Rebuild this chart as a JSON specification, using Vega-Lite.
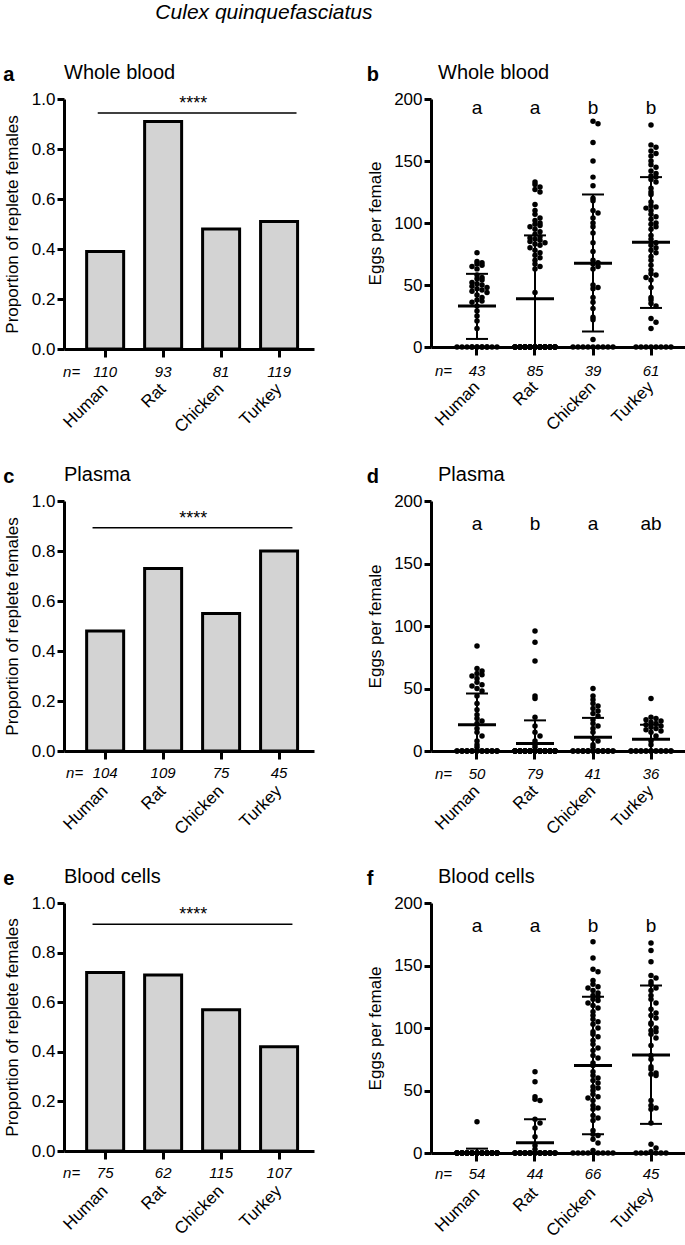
{
"$schema": "https://vega.github.io/schema/vega-lite/v6.json",
"padding": {"left": 3, "top": 2, "right": 0, "bottom": 0},
"background": "white",
"title": {"text": "Culex quinquefasciatus", "fontStyle": "italic", "fontWeight": "normal", "fontSize": 21, "anchor": "start", "frame": "bounds", "dx": 152, "offset": 40, "color": "black"},
"datasets": {
"props": [
{"p":"a","s":"Human","v":0.39,"n":110},{"p":"a","s":"Rat","v":0.91,"n":93},{"p":"a","s":"Chicken","v":0.48,"n":81},{"p":"a","s":"Turkey","v":0.51,"n":119},
{"p":"c","s":"Human","v":0.48,"n":104},{"p":"c","s":"Rat","v":0.73,"n":109},{"p":"c","s":"Chicken","v":0.55,"n":75},{"p":"c","s":"Turkey","v":0.8,"n":45},
{"p":"e","s":"Human","v":0.72,"n":75},{"p":"e","s":"Rat","v":0.71,"n":62},{"p":"e","s":"Chicken","v":0.57,"n":115},{"p":"e","s":"Turkey","v":0.42,"n":107}
],
"groups": [
{"p":"b","s":"Human","m":33,"lo":6.5,"hi":59,"n":43,"g":"a"},{"p":"b","s":"Rat","m":39,"lo":0,"hi":90,"n":85,"g":"a"},{"p":"b","s":"Chicken","m":67.5,"lo":12.5,"hi":123,"n":39,"g":"b"},{"p":"b","s":"Turkey","m":84.5,"lo":31.5,"hi":137,"n":61,"g":"b"},
{"p":"d","s":"Human","m":21,"lo":0,"hi":46,"n":50,"g":"a"},{"p":"d","s":"Rat","m":6,"lo":0,"hi":24.5,"n":79,"g":"b"},{"p":"d","s":"Chicken","m":11,"lo":0,"hi":26.5,"n":41,"g":"a"},{"p":"d","s":"Turkey","m":9.5,"lo":0,"hi":21,"n":36,"g":"ab"},
{"p":"f","s":"Human","m":0.5,"lo":0,"hi":3.5,"n":54,"g":"a"},{"p":"f","s":"Rat","m":8.3,"lo":0,"hi":27,"n":44,"g":"a"},{"p":"f","s":"Chicken","m":70,"lo":15,"hi":125,"n":66,"g":"b"},{"p":"f","s":"Turkey","m":78.5,"lo":23.3,"hi":134,"n":45,"g":"b"}
],
"eggs": [
{"p":"b","s":"Human","e":76},{"p":"b","s":"Human","e":69},{"p":"b","s":"Human","e":68},{"p":"b","s":"Human","e":67},{"p":"b","s":"Human","e":66},{"p":"b","s":"Human","e":65},{"p":"b","s":"Human","e":63},{"p":"b","s":"Human","e":58},{"p":"b","s":"Human","e":56},{"p":"b","s":"Human","e":55},
{"p":"b","s":"Human","e":54},{"p":"b","s":"Human","e":52},{"p":"b","s":"Human","e":51},{"p":"b","s":"Human","e":50},{"p":"b","s":"Human","e":49},{"p":"b","s":"Human","e":48},{"p":"b","s":"Human","e":47},{"p":"b","s":"Human","e":46},{"p":"b","s":"Human","e":45},{"p":"b","s":"Human","e":44},
{"p":"b","s":"Human","e":42},{"p":"b","s":"Human","e":40},{"p":"b","s":"Human","e":38},{"p":"b","s":"Human","e":37},{"p":"b","s":"Human","e":36},{"p":"b","s":"Human","e":33},{"p":"b","s":"Human","e":29},{"p":"b","s":"Human","e":25},{"p":"b","s":"Human","e":21},{"p":"b","s":"Human","e":15},
{"p":"b","s":"Human","e":0},{"p":"b","s":"Human","e":0},{"p":"b","s":"Human","e":0},{"p":"b","s":"Human","e":0},{"p":"b","s":"Human","e":0},{"p":"b","s":"Human","e":0},{"p":"b","s":"Human","e":0},{"p":"b","s":"Human","e":0},{"p":"b","s":"Human","e":0},{"p":"b","s":"Human","e":0},{"p":"b","s":"Human","e":0},{"p":"b","s":"Human","e":0},{"p":"b","s":"Human","e":0},
{"p":"b","s":"Rat","e":133},{"p":"b","s":"Rat","e":131},{"p":"b","s":"Rat","e":129},{"p":"b","s":"Rat","e":127},{"p":"b","s":"Rat","e":125},{"p":"b","s":"Rat","e":115},{"p":"b","s":"Rat","e":110},{"p":"b","s":"Rat","e":107},{"p":"b","s":"Rat","e":104},{"p":"b","s":"Rat","e":102},
{"p":"b","s":"Rat","e":100},{"p":"b","s":"Rat","e":99},{"p":"b","s":"Rat","e":98},{"p":"b","s":"Rat","e":97},{"p":"b","s":"Rat","e":95},{"p":"b","s":"Rat","e":93},{"p":"b","s":"Rat","e":91},{"p":"b","s":"Rat","e":89},{"p":"b","s":"Rat","e":88},{"p":"b","s":"Rat","e":87},
{"p":"b","s":"Rat","e":86},{"p":"b","s":"Rat","e":85},{"p":"b","s":"Rat","e":84},{"p":"b","s":"Rat","e":83},{"p":"b","s":"Rat","e":82},{"p":"b","s":"Rat","e":80},{"p":"b","s":"Rat","e":78},{"p":"b","s":"Rat","e":76},{"p":"b","s":"Rat","e":74},{"p":"b","s":"Rat","e":72},
{"p":"b","s":"Rat","e":70},{"p":"b","s":"Rat","e":67},{"p":"b","s":"Rat","e":65},{"p":"b","s":"Rat","e":63},{"p":"b","s":"Rat","e":44},
{"p":"b","s":"Rat","e":0},{"p":"b","s":"Rat","e":0},{"p":"b","s":"Rat","e":0},{"p":"b","s":"Rat","e":0},{"p":"b","s":"Rat","e":0},{"p":"b","s":"Rat","e":0},{"p":"b","s":"Rat","e":0},{"p":"b","s":"Rat","e":0},{"p":"b","s":"Rat","e":0},{"p":"b","s":"Rat","e":0},
{"p":"b","s":"Rat","e":0},{"p":"b","s":"Rat","e":0},{"p":"b","s":"Rat","e":0},{"p":"b","s":"Rat","e":0},{"p":"b","s":"Rat","e":0},{"p":"b","s":"Rat","e":0},{"p":"b","s":"Rat","e":0},{"p":"b","s":"Rat","e":0},{"p":"b","s":"Rat","e":0},{"p":"b","s":"Rat","e":0},
{"p":"b","s":"Rat","e":0},{"p":"b","s":"Rat","e":0},{"p":"b","s":"Rat","e":0},{"p":"b","s":"Rat","e":0},{"p":"b","s":"Rat","e":0},{"p":"b","s":"Rat","e":0},{"p":"b","s":"Rat","e":0},{"p":"b","s":"Rat","e":0},{"p":"b","s":"Rat","e":0},{"p":"b","s":"Rat","e":0},
{"p":"b","s":"Rat","e":0},{"p":"b","s":"Rat","e":0},{"p":"b","s":"Rat","e":0},{"p":"b","s":"Rat","e":0},{"p":"b","s":"Rat","e":0},{"p":"b","s":"Rat","e":0},{"p":"b","s":"Rat","e":0},{"p":"b","s":"Rat","e":0},{"p":"b","s":"Rat","e":0},{"p":"b","s":"Rat","e":0},
{"p":"b","s":"Rat","e":0},{"p":"b","s":"Rat","e":0},{"p":"b","s":"Rat","e":0},{"p":"b","s":"Rat","e":0},{"p":"b","s":"Rat","e":0},{"p":"b","s":"Rat","e":0},{"p":"b","s":"Rat","e":0},{"p":"b","s":"Rat","e":0},{"p":"b","s":"Rat","e":0},{"p":"b","s":"Rat","e":0},
{"p":"b","s":"Chicken","e":182},{"p":"b","s":"Chicken","e":180},{"p":"b","s":"Chicken","e":165},{"p":"b","s":"Chicken","e":150},{"p":"b","s":"Chicken","e":137},{"p":"b","s":"Chicken","e":130},{"p":"b","s":"Chicken","e":120},{"p":"b","s":"Chicken","e":118},{"p":"b","s":"Chicken","e":110},{"p":"b","s":"Chicken","e":108},
{"p":"b","s":"Chicken","e":104},{"p":"b","s":"Chicken","e":100},{"p":"b","s":"Chicken","e":97},{"p":"b","s":"Chicken","e":92},{"p":"b","s":"Chicken","e":84},{"p":"b","s":"Chicken","e":77},{"p":"b","s":"Chicken","e":70},{"p":"b","s":"Chicken","e":68},{"p":"b","s":"Chicken","e":67},{"p":"b","s":"Chicken","e":65},
{"p":"b","s":"Chicken","e":63},{"p":"b","s":"Chicken","e":50},{"p":"b","s":"Chicken","e":48},{"p":"b","s":"Chicken","e":47},{"p":"b","s":"Chicken","e":40},{"p":"b","s":"Chicken","e":36},{"p":"b","s":"Chicken","e":31},{"p":"b","s":"Chicken","e":24},{"p":"b","s":"Chicken","e":22},{"p":"b","s":"Chicken","e":6},
{"p":"b","s":"Chicken","e":0},{"p":"b","s":"Chicken","e":0},{"p":"b","s":"Chicken","e":0},{"p":"b","s":"Chicken","e":0},{"p":"b","s":"Chicken","e":0},{"p":"b","s":"Chicken","e":0},{"p":"b","s":"Chicken","e":0},{"p":"b","s":"Chicken","e":0},{"p":"b","s":"Chicken","e":0},
{"p":"b","s":"Turkey","e":179},{"p":"b","s":"Turkey","e":163},{"p":"b","s":"Turkey","e":161},{"p":"b","s":"Turkey","e":158},{"p":"b","s":"Turkey","e":156},{"p":"b","s":"Turkey","e":154},{"p":"b","s":"Turkey","e":150},{"p":"b","s":"Turkey","e":147},{"p":"b","s":"Turkey","e":145},{"p":"b","s":"Turkey","e":142},
{"p":"b","s":"Turkey","e":140},{"p":"b","s":"Turkey","e":138},{"p":"b","s":"Turkey","e":137},{"p":"b","s":"Turkey","e":135},{"p":"b","s":"Turkey","e":133},{"p":"b","s":"Turkey","e":128},{"p":"b","s":"Turkey","e":125},{"p":"b","s":"Turkey","e":123},{"p":"b","s":"Turkey","e":117},{"p":"b","s":"Turkey","e":114},
{"p":"b","s":"Turkey","e":113},{"p":"b","s":"Turkey","e":112},{"p":"b","s":"Turkey","e":110},{"p":"b","s":"Turkey","e":107},{"p":"b","s":"Turkey","e":105},{"p":"b","s":"Turkey","e":103},{"p":"b","s":"Turkey","e":100},{"p":"b","s":"Turkey","e":99},{"p":"b","s":"Turkey","e":97},{"p":"b","s":"Turkey","e":95},
{"p":"b","s":"Turkey","e":90},{"p":"b","s":"Turkey","e":87},{"p":"b","s":"Turkey","e":84},{"p":"b","s":"Turkey","e":82},{"p":"b","s":"Turkey","e":80},{"p":"b","s":"Turkey","e":78},{"p":"b","s":"Turkey","e":76},{"p":"b","s":"Turkey","e":73},{"p":"b","s":"Turkey","e":70},{"p":"b","s":"Turkey","e":66},
{"p":"b","s":"Turkey","e":62},{"p":"b","s":"Turkey","e":59},{"p":"b","s":"Turkey","e":58},{"p":"b","s":"Turkey","e":56},{"p":"b","s":"Turkey","e":54},{"p":"b","s":"Turkey","e":48},{"p":"b","s":"Turkey","e":40},{"p":"b","s":"Turkey","e":38},{"p":"b","s":"Turkey","e":35},{"p":"b","s":"Turkey","e":33},
{"p":"b","s":"Turkey","e":23},{"p":"b","s":"Turkey","e":20},{"p":"b","s":"Turkey","e":15},
{"p":"b","s":"Turkey","e":0},{"p":"b","s":"Turkey","e":0},{"p":"b","s":"Turkey","e":0},{"p":"b","s":"Turkey","e":0},{"p":"b","s":"Turkey","e":0},{"p":"b","s":"Turkey","e":0},{"p":"b","s":"Turkey","e":0},{"p":"b","s":"Turkey","e":0},
{"p":"d","s":"Human","e":84},{"p":"d","s":"Human","e":66},{"p":"d","s":"Human","e":64},{"p":"d","s":"Human","e":62},{"p":"d","s":"Human","e":61},{"p":"d","s":"Human","e":60},{"p":"d","s":"Human","e":58},{"p":"d","s":"Human","e":55},{"p":"d","s":"Human","e":53},{"p":"d","s":"Human","e":52},
{"p":"d","s":"Human","e":50},{"p":"d","s":"Human","e":48},{"p":"d","s":"Human","e":44},{"p":"d","s":"Human","e":38},{"p":"d","s":"Human","e":33},{"p":"d","s":"Human","e":29},{"p":"d","s":"Human","e":26},{"p":"d","s":"Human","e":24},{"p":"d","s":"Human","e":22},{"p":"d","s":"Human","e":18},
{"p":"d","s":"Human","e":15},{"p":"d","s":"Human","e":12},{"p":"d","s":"Human","e":8},{"p":"d","s":"Human","e":5},{"p":"d","s":"Human","e":3},
{"p":"d","s":"Human","e":0},{"p":"d","s":"Human","e":0},{"p":"d","s":"Human","e":0},{"p":"d","s":"Human","e":0},{"p":"d","s":"Human","e":0},{"p":"d","s":"Human","e":0},{"p":"d","s":"Human","e":0},{"p":"d","s":"Human","e":0},{"p":"d","s":"Human","e":0},{"p":"d","s":"Human","e":0},
{"p":"d","s":"Human","e":0},{"p":"d","s":"Human","e":0},{"p":"d","s":"Human","e":0},{"p":"d","s":"Human","e":0},{"p":"d","s":"Human","e":0},{"p":"d","s":"Human","e":0},{"p":"d","s":"Human","e":0},{"p":"d","s":"Human","e":0},{"p":"d","s":"Human","e":0},{"p":"d","s":"Human","e":0},
{"p":"d","s":"Human","e":0},{"p":"d","s":"Human","e":0},{"p":"d","s":"Human","e":0},{"p":"d","s":"Human","e":0},{"p":"d","s":"Human","e":0},
{"p":"d","s":"Rat","e":96},{"p":"d","s":"Rat","e":87},{"p":"d","s":"Rat","e":72},{"p":"d","s":"Rat","e":44},{"p":"d","s":"Rat","e":42},{"p":"d","s":"Rat","e":27},{"p":"d","s":"Rat","e":20},{"p":"d","s":"Rat","e":15},{"p":"d","s":"Rat","e":12},{"p":"d","s":"Rat","e":8},{"p":"d","s":"Rat","e":5},{"p":"d","s":"Rat","e":3},
{"p":"d","s":"Rat","e":0},{"p":"d","s":"Rat","e":0},{"p":"d","s":"Rat","e":0},{"p":"d","s":"Rat","e":0},{"p":"d","s":"Rat","e":0},{"p":"d","s":"Rat","e":0},{"p":"d","s":"Rat","e":0},{"p":"d","s":"Rat","e":0},{"p":"d","s":"Rat","e":0},{"p":"d","s":"Rat","e":0},
{"p":"d","s":"Rat","e":0},{"p":"d","s":"Rat","e":0},{"p":"d","s":"Rat","e":0},{"p":"d","s":"Rat","e":0},{"p":"d","s":"Rat","e":0},{"p":"d","s":"Rat","e":0},{"p":"d","s":"Rat","e":0},{"p":"d","s":"Rat","e":0},{"p":"d","s":"Rat","e":0},{"p":"d","s":"Rat","e":0},
{"p":"d","s":"Rat","e":0},{"p":"d","s":"Rat","e":0},{"p":"d","s":"Rat","e":0},{"p":"d","s":"Rat","e":0},{"p":"d","s":"Rat","e":0},{"p":"d","s":"Rat","e":0},{"p":"d","s":"Rat","e":0},{"p":"d","s":"Rat","e":0},{"p":"d","s":"Rat","e":0},{"p":"d","s":"Rat","e":0},
{"p":"d","s":"Rat","e":0},{"p":"d","s":"Rat","e":0},{"p":"d","s":"Rat","e":0},{"p":"d","s":"Rat","e":0},{"p":"d","s":"Rat","e":0},{"p":"d","s":"Rat","e":0},{"p":"d","s":"Rat","e":0},{"p":"d","s":"Rat","e":0},{"p":"d","s":"Rat","e":0},{"p":"d","s":"Rat","e":0},
{"p":"d","s":"Rat","e":0},{"p":"d","s":"Rat","e":0},{"p":"d","s":"Rat","e":0},{"p":"d","s":"Rat","e":0},{"p":"d","s":"Rat","e":0},{"p":"d","s":"Rat","e":0},{"p":"d","s":"Rat","e":0},{"p":"d","s":"Rat","e":0},{"p":"d","s":"Rat","e":0},{"p":"d","s":"Rat","e":0},
{"p":"d","s":"Rat","e":0},{"p":"d","s":"Rat","e":0},{"p":"d","s":"Rat","e":0},{"p":"d","s":"Rat","e":0},{"p":"d","s":"Rat","e":0},{"p":"d","s":"Rat","e":0},{"p":"d","s":"Rat","e":0},
{"p":"d","s":"Chicken","e":50},{"p":"d","s":"Chicken","e":44},{"p":"d","s":"Chicken","e":41},{"p":"d","s":"Chicken","e":38},{"p":"d","s":"Chicken","e":36},{"p":"d","s":"Chicken","e":34},{"p":"d","s":"Chicken","e":32},{"p":"d","s":"Chicken","e":30},{"p":"d","s":"Chicken","e":28},{"p":"d","s":"Chicken","e":25},
{"p":"d","s":"Chicken","e":22},{"p":"d","s":"Chicken","e":20},{"p":"d","s":"Chicken","e":18},{"p":"d","s":"Chicken","e":15},{"p":"d","s":"Chicken","e":10},{"p":"d","s":"Chicken","e":8},{"p":"d","s":"Chicken","e":5},{"p":"d","s":"Chicken","e":3},
{"p":"d","s":"Chicken","e":0},{"p":"d","s":"Chicken","e":0},{"p":"d","s":"Chicken","e":0},{"p":"d","s":"Chicken","e":0},{"p":"d","s":"Chicken","e":0},{"p":"d","s":"Chicken","e":0},{"p":"d","s":"Chicken","e":0},{"p":"d","s":"Chicken","e":0},{"p":"d","s":"Chicken","e":0},{"p":"d","s":"Chicken","e":0},
{"p":"d","s":"Chicken","e":0},{"p":"d","s":"Chicken","e":0},{"p":"d","s":"Chicken","e":0},{"p":"d","s":"Chicken","e":0},{"p":"d","s":"Chicken","e":0},{"p":"d","s":"Chicken","e":0},{"p":"d","s":"Chicken","e":0},{"p":"d","s":"Chicken","e":0},{"p":"d","s":"Chicken","e":0},{"p":"d","s":"Chicken","e":0},
{"p":"d","s":"Chicken","e":0},{"p":"d","s":"Chicken","e":0},{"p":"d","s":"Chicken","e":0},
{"p":"d","s":"Turkey","e":42},{"p":"d","s":"Turkey","e":27},{"p":"d","s":"Turkey","e":26},{"p":"d","s":"Turkey","e":25},{"p":"d","s":"Turkey","e":24},{"p":"d","s":"Turkey","e":23},{"p":"d","s":"Turkey","e":22},{"p":"d","s":"Turkey","e":21},{"p":"d","s":"Turkey","e":20},{"p":"d","s":"Turkey","e":19},
{"p":"d","s":"Turkey","e":18},{"p":"d","s":"Turkey","e":17},{"p":"d","s":"Turkey","e":16},{"p":"d","s":"Turkey","e":15},{"p":"d","s":"Turkey","e":12},{"p":"d","s":"Turkey","e":8},{"p":"d","s":"Turkey","e":5},
{"p":"d","s":"Turkey","e":0},{"p":"d","s":"Turkey","e":0},{"p":"d","s":"Turkey","e":0},{"p":"d","s":"Turkey","e":0},{"p":"d","s":"Turkey","e":0},{"p":"d","s":"Turkey","e":0},{"p":"d","s":"Turkey","e":0},{"p":"d","s":"Turkey","e":0},{"p":"d","s":"Turkey","e":0},{"p":"d","s":"Turkey","e":0},
{"p":"d","s":"Turkey","e":0},{"p":"d","s":"Turkey","e":0},{"p":"d","s":"Turkey","e":0},{"p":"d","s":"Turkey","e":0},{"p":"d","s":"Turkey","e":0},{"p":"d","s":"Turkey","e":0},{"p":"d","s":"Turkey","e":0},{"p":"d","s":"Turkey","e":0},{"p":"d","s":"Turkey","e":0},
{"p":"f","s":"Human","e":25},
{"p":"f","s":"Human","e":0},{"p":"f","s":"Human","e":0},{"p":"f","s":"Human","e":0},{"p":"f","s":"Human","e":0},{"p":"f","s":"Human","e":0},{"p":"f","s":"Human","e":0},{"p":"f","s":"Human","e":0},{"p":"f","s":"Human","e":0},{"p":"f","s":"Human","e":0},{"p":"f","s":"Human","e":0},
{"p":"f","s":"Human","e":0},{"p":"f","s":"Human","e":0},{"p":"f","s":"Human","e":0},{"p":"f","s":"Human","e":0},{"p":"f","s":"Human","e":0},{"p":"f","s":"Human","e":0},{"p":"f","s":"Human","e":0},{"p":"f","s":"Human","e":0},{"p":"f","s":"Human","e":0},{"p":"f","s":"Human","e":0},
{"p":"f","s":"Human","e":0},{"p":"f","s":"Human","e":0},{"p":"f","s":"Human","e":0},{"p":"f","s":"Human","e":0},{"p":"f","s":"Human","e":0},{"p":"f","s":"Human","e":0},{"p":"f","s":"Human","e":0},{"p":"f","s":"Human","e":0},{"p":"f","s":"Human","e":0},{"p":"f","s":"Human","e":0},
{"p":"f","s":"Human","e":0},{"p":"f","s":"Human","e":0},{"p":"f","s":"Human","e":0},{"p":"f","s":"Human","e":0},{"p":"f","s":"Human","e":0},{"p":"f","s":"Human","e":0},{"p":"f","s":"Human","e":0},{"p":"f","s":"Human","e":0},{"p":"f","s":"Human","e":0},{"p":"f","s":"Human","e":0},
{"p":"f","s":"Human","e":0},{"p":"f","s":"Human","e":0},{"p":"f","s":"Human","e":0},{"p":"f","s":"Human","e":0},{"p":"f","s":"Human","e":0},{"p":"f","s":"Human","e":0},{"p":"f","s":"Human","e":0},{"p":"f","s":"Human","e":0},{"p":"f","s":"Human","e":0},{"p":"f","s":"Human","e":0},
{"p":"f","s":"Human","e":0},{"p":"f","s":"Human","e":0},{"p":"f","s":"Human","e":0},
{"p":"f","s":"Rat","e":65},{"p":"f","s":"Rat","e":57},{"p":"f","s":"Rat","e":45},{"p":"f","s":"Rat","e":43},{"p":"f","s":"Rat","e":42},{"p":"f","s":"Rat","e":27},{"p":"f","s":"Rat","e":24},{"p":"f","s":"Rat","e":20},{"p":"f","s":"Rat","e":13},{"p":"f","s":"Rat","e":6},{"p":"f","s":"Rat","e":3},
{"p":"f","s":"Rat","e":0},{"p":"f","s":"Rat","e":0},{"p":"f","s":"Rat","e":0},{"p":"f","s":"Rat","e":0},{"p":"f","s":"Rat","e":0},{"p":"f","s":"Rat","e":0},{"p":"f","s":"Rat","e":0},{"p":"f","s":"Rat","e":0},{"p":"f","s":"Rat","e":0},{"p":"f","s":"Rat","e":0},
{"p":"f","s":"Rat","e":0},{"p":"f","s":"Rat","e":0},{"p":"f","s":"Rat","e":0},{"p":"f","s":"Rat","e":0},{"p":"f","s":"Rat","e":0},{"p":"f","s":"Rat","e":0},{"p":"f","s":"Rat","e":0},{"p":"f","s":"Rat","e":0},{"p":"f","s":"Rat","e":0},{"p":"f","s":"Rat","e":0},
{"p":"f","s":"Rat","e":0},{"p":"f","s":"Rat","e":0},{"p":"f","s":"Rat","e":0},{"p":"f","s":"Rat","e":0},{"p":"f","s":"Rat","e":0},{"p":"f","s":"Rat","e":0},{"p":"f","s":"Rat","e":0},{"p":"f","s":"Rat","e":0},{"p":"f","s":"Rat","e":0},{"p":"f","s":"Rat","e":0},
{"p":"f","s":"Rat","e":0},{"p":"f","s":"Rat","e":0},{"p":"f","s":"Rat","e":0},
{"p":"f","s":"Chicken","e":169},{"p":"f","s":"Chicken","e":156},{"p":"f","s":"Chicken","e":147},{"p":"f","s":"Chicken","e":145},{"p":"f","s":"Chicken","e":138},{"p":"f","s":"Chicken","e":135},{"p":"f","s":"Chicken","e":133},{"p":"f","s":"Chicken","e":132},{"p":"f","s":"Chicken","e":130},{"p":"f","s":"Chicken","e":128},
{"p":"f","s":"Chicken","e":126},{"p":"f","s":"Chicken","e":125},{"p":"f","s":"Chicken","e":123},{"p":"f","s":"Chicken","e":122},{"p":"f","s":"Chicken","e":120},{"p":"f","s":"Chicken","e":118},{"p":"f","s":"Chicken","e":116},{"p":"f","s":"Chicken","e":113},{"p":"f","s":"Chicken","e":110},{"p":"f","s":"Chicken","e":107},
{"p":"f","s":"Chicken","e":105},{"p":"f","s":"Chicken","e":103},{"p":"f","s":"Chicken","e":100},{"p":"f","s":"Chicken","e":97},{"p":"f","s":"Chicken","e":95},{"p":"f","s":"Chicken","e":93},{"p":"f","s":"Chicken","e":90},{"p":"f","s":"Chicken","e":87},{"p":"f","s":"Chicken","e":84},{"p":"f","s":"Chicken","e":82},
{"p":"f","s":"Chicken","e":78},{"p":"f","s":"Chicken","e":76},{"p":"f","s":"Chicken","e":72},{"p":"f","s":"Chicken","e":70},{"p":"f","s":"Chicken","e":65},{"p":"f","s":"Chicken","e":62},{"p":"f","s":"Chicken","e":60},{"p":"f","s":"Chicken","e":58},{"p":"f","s":"Chicken","e":56},{"p":"f","s":"Chicken","e":53},
{"p":"f","s":"Chicken","e":52},{"p":"f","s":"Chicken","e":50},{"p":"f","s":"Chicken","e":47},{"p":"f","s":"Chicken","e":45},{"p":"f","s":"Chicken","e":44},{"p":"f","s":"Chicken","e":42},{"p":"f","s":"Chicken","e":38},{"p":"f","s":"Chicken","e":36},{"p":"f","s":"Chicken","e":35},{"p":"f","s":"Chicken","e":30},
{"p":"f","s":"Chicken","e":28},{"p":"f","s":"Chicken","e":26},{"p":"f","s":"Chicken","e":18},{"p":"f","s":"Chicken","e":15},{"p":"f","s":"Chicken","e":14},{"p":"f","s":"Chicken","e":11},{"p":"f","s":"Chicken","e":8},{"p":"f","s":"Chicken","e":2},
{"p":"f","s":"Chicken","e":0},{"p":"f","s":"Chicken","e":0},{"p":"f","s":"Chicken","e":0},{"p":"f","s":"Chicken","e":0},{"p":"f","s":"Chicken","e":0},{"p":"f","s":"Chicken","e":0},{"p":"f","s":"Chicken","e":0},{"p":"f","s":"Chicken","e":0},
{"p":"f","s":"Turkey","e":168},{"p":"f","s":"Turkey","e":162},{"p":"f","s":"Turkey","e":153},{"p":"f","s":"Turkey","e":142},{"p":"f","s":"Turkey","e":140},{"p":"f","s":"Turkey","e":137},{"p":"f","s":"Turkey","e":135},{"p":"f","s":"Turkey","e":132},{"p":"f","s":"Turkey","e":130},{"p":"f","s":"Turkey","e":126},
{"p":"f","s":"Turkey","e":123},{"p":"f","s":"Turkey","e":120},{"p":"f","s":"Turkey","e":115},{"p":"f","s":"Turkey","e":112},{"p":"f","s":"Turkey","e":110},{"p":"f","s":"Turkey","e":108},{"p":"f","s":"Turkey","e":104},{"p":"f","s":"Turkey","e":103},{"p":"f","s":"Turkey","e":100},{"p":"f","s":"Turkey","e":98},
{"p":"f","s":"Turkey","e":97},{"p":"f","s":"Turkey","e":95},{"p":"f","s":"Turkey","e":92},{"p":"f","s":"Turkey","e":86},{"p":"f","s":"Turkey","e":78},{"p":"f","s":"Turkey","e":75},{"p":"f","s":"Turkey","e":69},{"p":"f","s":"Turkey","e":67},{"p":"f","s":"Turkey","e":64},{"p":"f","s":"Turkey","e":63},
{"p":"f","s":"Turkey","e":62},{"p":"f","s":"Turkey","e":42},{"p":"f","s":"Turkey","e":38},{"p":"f","s":"Turkey","e":36},{"p":"f","s":"Turkey","e":35},{"p":"f","s":"Turkey","e":24},{"p":"f","s":"Turkey","e":7},{"p":"f","s":"Turkey","e":4},{"p":"f","s":"Turkey","e":1},
{"p":"f","s":"Turkey","e":0},{"p":"f","s":"Turkey","e":0},{"p":"f","s":"Turkey","e":0},{"p":"f","s":"Turkey","e":0},{"p":"f","s":"Turkey","e":0},{"p":"f","s":"Turkey","e":0}
]
},
"columns": 2,
"spacing": {"row": 29, "column": 52},
"concat": [
{"title": {"text": "a", "anchor": "start", "frame": "bounds", "fontSize": 20, "fontWeight": "bold", "offset": 0, "dy": 22},
 "vconcat": [{
  "title": {"text": "Whole blood", "anchor": "start", "frame": "group", "fontSize": 20, "fontWeight": "normal", "offset": 7},
  "width": 250, "height": 250,
  "layer": [
   {"data": {"name": "props"}, "transform": [{"filter": "datum.p=='a'"}],
    "mark": {"type": "bar", "fill": "#d3d3d3", "stroke": "black", "strokeWidth": 3, "width": 37},
    "encoding": {
     "x": {"field": "s", "type": "nominal", "scale": {"type": "band", "domain": ["Human","Rat","Chicken","Turkey"], "paddingInner": 0.36, "paddingOuter": 0.336, "align": 0.58}, "axis": {"title": null, "labelAngle": -45, "labelAlign": "right", "labelBaseline": "middle", "labelPadding": 29, "labelFontSize": 17, "tickSize": 8, "labelOverlap": false}},
     "y": {"field": "v", "type": "quantitative", "scale": {"domain": [0, 1]}, "axis": {"title": "Proportion of replete females", "values": [0,0.2,0.4,0.6,0.8,1], "format": ".1f", "tickSize": 7, "titlePadding": 10}}}},
   {"data": {"name": "props"}, "transform": [{"filter": "datum.p=='a'"}],
    "mark": {"type": "text", "fontStyle": "italic", "fontSize": 15, "baseline": "middle"},
    "encoding": {"x": {"field": "s", "type": "nominal"}, "y": {"datum": -0.09}, "text": {"field": "n"}}},
   {"data": {"values": [{}]}, "mark": {"type": "text", "text": "n=", "fontStyle": "italic", "fontSize": 15, "baseline": "middle", "align": "right", "dx": -25},
    "encoding": {"x": {"datum": "Human"}, "y": {"datum": -0.09}}},
   {"data": {"values": [{}]}, "mark": {"type": "rule", "strokeWidth": 1.5, "color": "black"},
    "encoding": {"x": {"datum": "Human", "bandPosition": 0.3}, "x2": {"datum": "Turkey", "bandPosition": 0.97}, "y": {"datum": 0.944}}},
   {"data": {"values": [{}]}, "mark": {"type": "text", "text": "****", "fontSize": 18, "baseline": "middle"},
    "encoding": {"x": {"datum": "Rat", "bandPosition": 1.31}, "y": {"datum": 0.98}}}
  ]}]},
{"title": {"text": "b", "anchor": "start", "frame": "bounds", "fontSize": 20, "fontWeight": "bold", "offset": 0, "dy": 22},
 "vconcat": [{
  "title": {"text": "Whole blood", "anchor": "start", "frame": "group", "fontSize": 20, "fontWeight": "normal", "offset": 7, "dx": 7},
  "width": 258, "height": 248,
  "layer": [
   {"data": {"name": "eggs"}, "transform": [{"filter": "datum.p=='b'"}, {"bin": {"step": 4}, "field": "e", "as": "eb"}, {"window": [{"op": "row_number", "as": "k"}], "groupby": ["s", "eb"]}, {"calculate": "((datum.k-1)%9)+1", "as": "kk"}, {"calculate": "(datum.kk%2==0?1:-1)*floor(datum.kk/2)", "as": "off"}],
    "mark": {"type": "circle", "size": 30, "color": "black", "opacity": 1},
    "encoding": {
     "x": {"field": "s", "type": "nominal", "scale": {"type": "band", "domain": ["Human","Rat","Chicken","Turkey"], "paddingInner": 0, "paddingOuter": 0.224, "align": 0.654}, "axis": {"title": null, "labelAngle": -45, "labelAlign": "right", "labelBaseline": "middle", "labelPadding": 29, "labelFontSize": 17, "tickSize": 8, "labelOverlap": false}},
     "xOffset": {"field": "off", "type": "quantitative", "scale": {"domain": [-5.8, 5.8]}},
     "y": {"field": "e", "type": "quantitative", "scale": {"domain": [0, 200]}, "axis": {"title": "Eggs per female", "values": [0,50,100,150,200], "tickSize": 7, "titlePadding": 9}}}},
   {"data": {"name": "groups"}, "transform": [{"filter": "datum.p=='b'"}], "mark": {"type": "rule", "strokeWidth": 2, "color": "black"},
    "encoding": {"x": {"field": "s", "type": "nominal"}, "y": {"field": "lo", "type": "quantitative"}, "y2": {"field": "hi"}}},
   {"data": {"name": "groups"}, "transform": [{"filter": "datum.p=='b'"}], "mark": {"type": "tick", "orient": "horizontal", "size": 38, "thickness": 3, "color": "black", "opacity": 1},
    "encoding": {"x": {"field": "s", "type": "nominal"}, "y": {"field": "m", "type": "quantitative"}}},
   {"data": {"name": "groups"}, "transform": [{"filter": "datum.p=='b'"}], "mark": {"type": "tick", "orient": "horizontal", "size": 22, "thickness": 2, "color": "black", "opacity": 1},
    "encoding": {"x": {"field": "s", "type": "nominal"}, "y": {"field": "hi", "type": "quantitative"}}},
   {"data": {"name": "groups"}, "transform": [{"filter": "datum.p=='b' && datum.lo>0"}], "mark": {"type": "tick", "orient": "horizontal", "size": 22, "thickness": 2, "color": "black", "opacity": 1},
    "encoding": {"x": {"field": "s", "type": "nominal"}, "y": {"field": "lo", "type": "quantitative"}}},
   {"data": {"name": "groups"}, "transform": [{"filter": "datum.p=='b'"}], "mark": {"type": "text", "fontSize": 19, "baseline": "middle"},
    "encoding": {"x": {"field": "s", "type": "nominal"}, "y": {"datum": 193}, "text": {"field": "g"}}},
   {"data": {"name": "groups"}, "transform": [{"filter": "datum.p=='b'"}], "mark": {"type": "text", "fontStyle": "italic", "fontSize": 15, "baseline": "middle"},
    "encoding": {"x": {"field": "s", "type": "nominal"}, "y": {"datum": -19}, "text": {"field": "n"}}},
   {"data": {"values": [{}]}, "mark": {"type": "text", "text": "n=", "fontStyle": "italic", "fontSize": 15, "baseline": "middle", "align": "right", "dx": -25},
    "encoding": {"x": {"datum": "Human"}, "y": {"datum": -19}}}
  ]}]},
{"title": {"text": "c", "anchor": "start", "frame": "bounds", "fontSize": 20, "fontWeight": "bold", "offset": 0, "dy": 22},
 "vconcat": [{
  "title": {"text": "Plasma", "anchor": "start", "frame": "group", "fontSize": 20, "fontWeight": "normal", "offset": 7},
  "width": 250, "height": 250,
  "layer": [
   {"data": {"name": "props"}, "transform": [{"filter": "datum.p=='c'"}],
    "mark": {"type": "bar", "fill": "#d3d3d3", "stroke": "black", "strokeWidth": 3, "width": 37},
    "encoding": {
     "x": {"field": "s", "type": "nominal", "scale": {"type": "band", "domain": ["Human","Rat","Chicken","Turkey"], "paddingInner": 0.36, "paddingOuter": 0.336, "align": 0.58}, "axis": {"title": null, "labelAngle": -45, "labelAlign": "right", "labelBaseline": "middle", "labelPadding": 29, "labelFontSize": 17, "tickSize": 8, "labelOverlap": false}},
     "y": {"field": "v", "type": "quantitative", "scale": {"domain": [0, 1]}, "axis": {"title": "Proportion of replete females", "values": [0,0.2,0.4,0.6,0.8,1], "format": ".1f", "tickSize": 7, "titlePadding": 10}}}},
   {"data": {"name": "props"}, "transform": [{"filter": "datum.p=='c'"}],
    "mark": {"type": "text", "fontStyle": "italic", "fontSize": 15, "baseline": "middle"},
    "encoding": {"x": {"field": "s", "type": "nominal"}, "y": {"datum": -0.086}, "text": {"field": "n"}}},
   {"data": {"values": [{}]}, "mark": {"type": "text", "text": "n=", "fontStyle": "italic", "fontSize": 15, "baseline": "middle", "align": "right", "dx": -22},
    "encoding": {"x": {"datum": "Human"}, "y": {"datum": -0.086}}},
   {"data": {"values": [{}]}, "mark": {"type": "rule", "strokeWidth": 1.5, "color": "black"},
    "encoding": {"x": {"datum": "Human", "bandPosition": 0.16}, "x2": {"datum": "Turkey", "bandPosition": 0.86}, "y": {"datum": 0.893}}},
   {"data": {"values": [{}]}, "mark": {"type": "text", "text": "****", "fontSize": 18, "baseline": "middle"},
    "encoding": {"x": {"datum": "Rat", "bandPosition": 1.31}, "y": {"datum": 0.928}}}
  ]}]},
{"title": {"text": "d", "anchor": "start", "frame": "bounds", "fontSize": 20, "fontWeight": "bold", "offset": 0, "dy": 22},
 "vconcat": [{
  "title": {"text": "Plasma", "anchor": "start", "frame": "group", "fontSize": 20, "fontWeight": "normal", "offset": 7, "dx": 7},
  "width": 258, "height": 250,
  "layer": [
   {"data": {"name": "eggs"}, "transform": [{"filter": "datum.p=='d'"}, {"bin": {"step": 4}, "field": "e", "as": "eb"}, {"window": [{"op": "row_number", "as": "k"}], "groupby": ["s", "eb"]}, {"calculate": "((datum.k-1)%9)+1", "as": "kk"}, {"calculate": "(datum.kk%2==0?1:-1)*floor(datum.kk/2)", "as": "off"}],
    "mark": {"type": "circle", "size": 30, "color": "black", "opacity": 1},
    "encoding": {
     "x": {"field": "s", "type": "nominal", "scale": {"type": "band", "domain": ["Human","Rat","Chicken","Turkey"], "paddingInner": 0, "paddingOuter": 0.224, "align": 0.654}, "axis": {"title": null, "labelAngle": -45, "labelAlign": "right", "labelBaseline": "middle", "labelPadding": 29, "labelFontSize": 17, "tickSize": 8, "labelOverlap": false}},
     "xOffset": {"field": "off", "type": "quantitative", "scale": {"domain": [-5.8, 5.8]}},
     "y": {"field": "e", "type": "quantitative", "scale": {"domain": [0, 200]}, "axis": {"title": "Eggs per female", "values": [0,50,100,150,200], "tickSize": 7, "titlePadding": 9}}}},
   {"data": {"name": "groups"}, "transform": [{"filter": "datum.p=='d'"}], "mark": {"type": "rule", "strokeWidth": 2, "color": "black"},
    "encoding": {"x": {"field": "s", "type": "nominal"}, "y": {"field": "lo", "type": "quantitative"}, "y2": {"field": "hi"}}},
   {"data": {"name": "groups"}, "transform": [{"filter": "datum.p=='d'"}], "mark": {"type": "tick", "orient": "horizontal", "size": 38, "thickness": 3, "color": "black", "opacity": 1},
    "encoding": {"x": {"field": "s", "type": "nominal"}, "y": {"field": "m", "type": "quantitative"}}},
   {"data": {"name": "groups"}, "transform": [{"filter": "datum.p=='d'"}], "mark": {"type": "tick", "orient": "horizontal", "size": 22, "thickness": 2, "color": "black", "opacity": 1},
    "encoding": {"x": {"field": "s", "type": "nominal"}, "y": {"field": "hi", "type": "quantitative"}}},
   {"data": {"name": "groups"}, "transform": [{"filter": "datum.p=='d'"}], "mark": {"type": "text", "fontSize": 19, "baseline": "middle"},
    "encoding": {"x": {"field": "s", "type": "nominal"}, "y": {"datum": 182}, "text": {"field": "g"}}},
   {"data": {"name": "groups"}, "transform": [{"filter": "datum.p=='d'"}], "mark": {"type": "text", "fontStyle": "italic", "fontSize": 15, "baseline": "middle"},
    "encoding": {"x": {"field": "s", "type": "nominal"}, "y": {"datum": -18}, "text": {"field": "n"}}},
   {"data": {"values": [{}]}, "mark": {"type": "text", "text": "n=", "fontStyle": "italic", "fontSize": 15, "baseline": "middle", "align": "right", "dx": -25},
    "encoding": {"x": {"datum": "Human"}, "y": {"datum": -18}}}
  ]}]},
{"title": {"text": "e", "anchor": "start", "frame": "bounds", "fontSize": 20, "fontWeight": "bold", "offset": 0, "dy": 22},
 "vconcat": [{
  "title": {"text": "Blood cells", "anchor": "start", "frame": "group", "fontSize": 20, "fontWeight": "normal", "offset": 7},
  "width": 250, "height": 248,
  "layer": [
   {"data": {"name": "props"}, "transform": [{"filter": "datum.p=='e'"}],
    "mark": {"type": "bar", "fill": "#d3d3d3", "stroke": "black", "strokeWidth": 3, "width": 37},
    "encoding": {
     "x": {"field": "s", "type": "nominal", "scale": {"type": "band", "domain": ["Human","Rat","Chicken","Turkey"], "paddingInner": 0.36, "paddingOuter": 0.336, "align": 0.58}, "axis": {"title": null, "labelAngle": -45, "labelAlign": "right", "labelBaseline": "middle", "labelPadding": 29, "labelFontSize": 17, "tickSize": 8, "labelOverlap": false}},
     "y": {"field": "v", "type": "quantitative", "scale": {"domain": [0, 1]}, "axis": {"title": "Proportion of replete females", "values": [0,0.2,0.4,0.6,0.8,1], "format": ".1f", "tickSize": 7, "titlePadding": 10}}}},
   {"data": {"name": "props"}, "transform": [{"filter": "datum.p=='e'"}],
    "mark": {"type": "text", "fontStyle": "italic", "fontSize": 15, "baseline": "middle"},
    "encoding": {"x": {"field": "s", "type": "nominal"}, "y": {"datum": -0.088}, "text": {"field": "n"}}},
   {"data": {"values": [{}]}, "mark": {"type": "text", "text": "n=", "fontStyle": "italic", "fontSize": 15, "baseline": "middle", "align": "right", "dx": -25},
    "encoding": {"x": {"datum": "Human"}, "y": {"datum": -0.088}}},
   {"data": {"values": [{}]}, "mark": {"type": "rule", "strokeWidth": 1.5, "color": "black"},
    "encoding": {"x": {"datum": "Human", "bandPosition": 0.16}, "x2": {"datum": "Turkey", "bandPosition": 0.86}, "y": {"datum": 0.914}}},
   {"data": {"values": [{}]}, "mark": {"type": "text", "text": "****", "fontSize": 18, "baseline": "middle"},
    "encoding": {"x": {"datum": "Rat", "bandPosition": 1.31}, "y": {"datum": 0.952}}}
  ]}]},
{"title": {"text": "f", "anchor": "start", "frame": "bounds", "fontSize": 20, "fontWeight": "bold", "offset": 0, "dy": 22},
 "vconcat": [{
  "title": {"text": "Blood cells", "anchor": "start", "frame": "group", "fontSize": 20, "fontWeight": "normal", "offset": 7, "dx": 7},
  "width": 258, "height": 250,
  "layer": [
   {"data": {"name": "eggs"}, "transform": [{"filter": "datum.p=='f'"}, {"bin": {"step": 4}, "field": "e", "as": "eb"}, {"window": [{"op": "row_number", "as": "k"}], "groupby": ["s", "eb"]}, {"calculate": "((datum.k-1)%9)+1", "as": "kk"}, {"calculate": "(datum.kk%2==0?1:-1)*floor(datum.kk/2)", "as": "off"}],
    "mark": {"type": "circle", "size": 30, "color": "black", "opacity": 1},
    "encoding": {
     "x": {"field": "s", "type": "nominal", "scale": {"type": "band", "domain": ["Human","Rat","Chicken","Turkey"], "paddingInner": 0, "paddingOuter": 0.224, "align": 0.654}, "axis": {"title": null, "labelAngle": -45, "labelAlign": "right", "labelBaseline": "middle", "labelPadding": 29, "labelFontSize": 17, "tickSize": 8, "labelOverlap": false}},
     "xOffset": {"field": "off", "type": "quantitative", "scale": {"domain": [-5.8, 5.8]}},
     "y": {"field": "e", "type": "quantitative", "scale": {"domain": [0, 200]}, "axis": {"title": "Eggs per female", "values": [0,50,100,150,200], "tickSize": 7, "titlePadding": 9}}}},
   {"data": {"name": "groups"}, "transform": [{"filter": "datum.p=='f'"}], "mark": {"type": "rule", "strokeWidth": 2, "color": "black"},
    "encoding": {"x": {"field": "s", "type": "nominal"}, "y": {"field": "lo", "type": "quantitative"}, "y2": {"field": "hi"}}},
   {"data": {"name": "groups"}, "transform": [{"filter": "datum.p=='f'"}], "mark": {"type": "tick", "orient": "horizontal", "size": 38, "thickness": 3, "color": "black", "opacity": 1},
    "encoding": {"x": {"field": "s", "type": "nominal"}, "y": {"field": "m", "type": "quantitative"}}},
   {"data": {"name": "groups"}, "transform": [{"filter": "datum.p=='f'"}], "mark": {"type": "tick", "orient": "horizontal", "size": 22, "thickness": 2, "color": "black", "opacity": 1},
    "encoding": {"x": {"field": "s", "type": "nominal"}, "y": {"field": "hi", "type": "quantitative"}}},
   {"data": {"name": "groups"}, "transform": [{"filter": "datum.p=='f' && datum.lo>0"}], "mark": {"type": "tick", "orient": "horizontal", "size": 22, "thickness": 2, "color": "black", "opacity": 1},
    "encoding": {"x": {"field": "s", "type": "nominal"}, "y": {"field": "lo", "type": "quantitative"}}},
   {"data": {"name": "groups"}, "transform": [{"filter": "datum.p=='f'"}], "mark": {"type": "text", "fontSize": 19, "baseline": "middle"},
    "encoding": {"x": {"field": "s", "type": "nominal"}, "y": {"datum": 182}, "text": {"field": "g"}}},
   {"data": {"name": "groups"}, "transform": [{"filter": "datum.p=='f'"}], "mark": {"type": "text", "fontStyle": "italic", "fontSize": 15, "baseline": "middle"},
    "encoding": {"x": {"field": "s", "type": "nominal"}, "y": {"datum": -17}, "text": {"field": "n"}}},
   {"data": {"values": [{}]}, "mark": {"type": "text", "text": "n=", "fontStyle": "italic", "fontSize": 15, "baseline": "middle", "align": "right", "dx": -25},
    "encoding": {"x": {"datum": "Human"}, "y": {"datum": -17}}}
  ]}]}
],
"config": {
 "font": "Liberation Sans",
 "view": {"stroke": null},
 "axis": {"domainColor": "black", "domainWidth": 3, "tickColor": "black", "tickWidth": 3, "labelColor": "black", "titleColor": "black", "labelFontSize": 17, "titleFontSize": 17, "titleFontWeight": "normal", "grid": false, "labelFont": "Liberation Sans", "titleFont": "Liberation Sans"},
 "title": {"color": "black", "font": "Liberation Sans"},
 "text": {"color": "black", "font": "Liberation Sans"}
}
}
